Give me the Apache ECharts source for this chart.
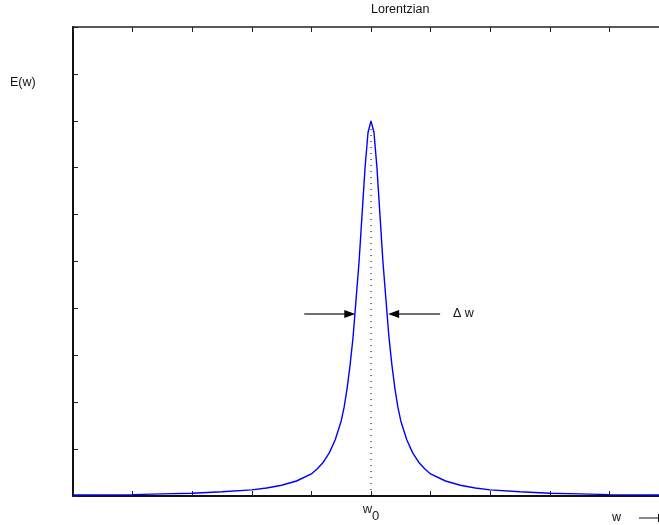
<!DOCTYPE html>
<html><head><meta charset="utf-8">
<script src="https://cdn.jsdelivr.net/npm/echarts@6/dist/echarts.min.js"></script>
<style>html,body{margin:0;padding:0;background:#fff}#c{width:659px;height:525px}</style>
</head><body><div id="c"></div>
<script>
// Lorentzian curve (x in units of the tick spacing, w0 = 0)
const xValues = [-5,-4.5,-4,-3.5,-3,-2.5,-2,-1.75,-1.5,-1.25,-1,-0.9,-0.8,-0.7,-0.6,-0.5,-0.45,-0.4,-0.35,-0.3,-0.25,-0.2,-0.15,-0.1,-0.05,0,
                 0.05,0.1,0.15,0.2,0.25,0.3,0.35,0.4,0.45,0.5,0.6,0.7,0.8,0.9,1,1.25,1.5,1.75,2,2.5,3,3.5,4,4.5,5];
const eValues = [0.02,0.025,0.03,0.045,0.06,0.09,0.13,0.17,0.23,0.32,0.47,0.58,0.72,0.92,1.2,1.6,1.9,2.3,2.8,3.4,4.2,5.0,6.0,7.0,7.75,8.0,
                 7.75,7.0,6.0,5.0,4.2,3.4,2.8,2.3,1.9,1.6,1.2,0.92,0.72,0.58,0.47,0.32,0.23,0.17,0.13,0.09,0.06,0.045,0.03,0.025,0.02];
// dotted centre line (w0)
const centerX = [0, 0];
const centerY = [0, 8];
// half-width arrows
const arrowY = 3.88;
const leftArrowX = [-1.12, -0.4];
const rightArrowX = [1.16, 0.42];
const arrowHeadX = [-0.355, 0.38];
const deltaLabelX = 1.375;
const xTicks = [-5, 5, 1];
const yTicks = [0, 10, 1];

const curve = xValues.map((x, i) => [x, eValues[i]]);
const center = centerX.map((x, i) => [x, centerY[i]]);

const chart = echarts.init(document.getElementById('c'), null, {renderer: 'canvas'});
const FONT = 'Liberation Sans, Arial, Helvetica, sans-serif';
const tickStyle = {show: true, inside: true, length: 5, lineStyle: {color: '#222', width: 1}};
chart.setOption({
  animation: false,
  backgroundColor: '#fff',
  grid: {left: 73, top: 27, width: 596, height: 469, containLabel: false, outerBoundsMode: 'none'},
  xAxis: [{
    type: 'value', position: 'bottom', min: xTicks[0], max: xTicks[1], interval: xTicks[2],
    axisLine: {show: true, onZero: false, lineStyle: {color: '#111', width: 2}},
    axisTick: tickStyle, splitLine: {show: false},
    axisLabel: {
      show: true, margin: 7, color: '#222', fontFamily: FONT, verticalAlign: 'top',
      formatter: v => v === 0 ? '{w|w}{s|0}' : '',
      rich: {w: {fontSize: 13, fontFamily: FONT, color: '#222', verticalAlign: 'top', lineHeight: 20},
             s: {fontSize: 13, fontFamily: FONT, color: '#222', verticalAlign: 'bottom', lineHeight: 20}}
    }
  }, {
    type: 'value', position: 'top', min: xTicks[0], max: xTicks[1], interval: xTicks[2],
    axisLine: {show: true, onZero: false, lineStyle: {color: '#222', width: 1.5}},
    axisTick: tickStyle, axisLabel: {show: false}, splitLine: {show: false}
  }],
  yAxis: [{
    type: 'value', position: 'left', min: yTicks[0], max: yTicks[1], interval: yTicks[2],
    axisLine: {show: true, onZero: false, lineStyle: {color: '#111', width: 2}},
    axisTick: tickStyle, axisLabel: {show: false}, splitLine: {show: false}
  }],
  graphic: [
    {type: 'text', left: 371, top: 3, style: {text: 'Lorentzian', fontSize: 12.5, fontFamily: FONT, fill: '#111', textAlign: 'center'}},
    {type: 'text', left: 10, top: 76, style: {text: 'E(w)', fontSize: 12.5, fontFamily: FONT, fill: '#111'}},
    {type: 'text', left: 612, top: 511, style: {text: 'w', fontSize: 12.5, fontFamily: FONT, fill: '#111'}},
    {type: 'line', shape: {x1: 639, y1: 518, x2: 659, y2: 518}, style: {stroke: '#111', lineWidth: 1}},
    {type: 'line', shape: {x1: 658.5, y1: 514, x2: 658.5, y2: 522}, style: {stroke: '#111', lineWidth: 1}}
  ],
  series: [{
    type: 'line', data: center, showSymbol: false, silent: true, z: 1,
    lineStyle: {color: '#000', width: 1, type: [1, 5]},
    markLine: {
      silent: true, symbol: ['none', 'none'], label: {show: false},
      lineStyle: {color: '#707070', width: 2, type: 'solid'},
      data: [
        [{coord: [leftArrowX[0], arrowY]}, {coord: [leftArrowX[1], arrowY]}],
        [{coord: [rightArrowX[0], arrowY]}, {coord: [rightArrowX[1], arrowY]}]
      ]
    },
    markPoint: {
      silent: true,
      data: [
        {coord: [arrowHeadX[0], arrowY], symbol: 'triangle', symbolSize: [8, 11], symbolRotate: -90,
         itemStyle: {color: '#000'}, label: {show: false}},
        {coord: [arrowHeadX[1], arrowY], symbol: 'triangle', symbolSize: [8, 11], symbolRotate: 90,
         itemStyle: {color: '#000'}, label: {show: false}},
        {coord: [deltaLabelX, arrowY], symbol: 'circle', symbolSize: 0,
         label: {show: true, position: 'right', distance: 0, formatter: 'Δ w', color: '#111', fontSize: 12.5, fontFamily: FONT}}
      ]
    }
  }, {
    type: 'line', data: curve, showSymbol: false, silent: true, z: 3,
    lineStyle: {color: '#0000ff', width: 1.4}
  }]
});
</script></body></html>
